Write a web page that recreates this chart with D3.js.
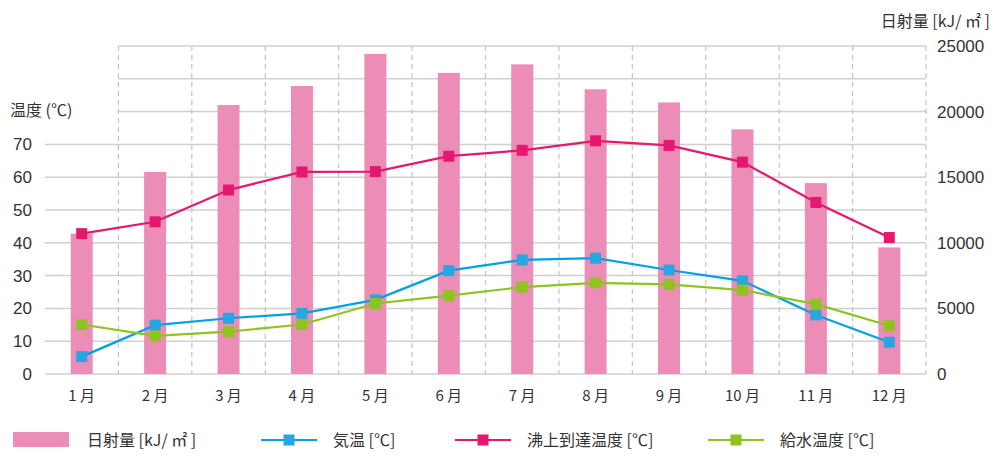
<!DOCTYPE html>
<meta charset="utf-8">
<style>
body { margin: 0; background: #fff; }
svg { font-family: "Noto Sans CJK JP", "Noto Sans", sans-serif; }
.grid line { stroke: #d0d0d0; stroke-width: 1.5px; }
.vgrid line { stroke: #c4c4c4; stroke-width: 1.2px; stroke-dasharray: 5,4; }
.tick-label { font-size: 17px; fill: #333; font-family: "Liberation Sans", sans-serif; }
.title { font-size: 16px; fill: #333; }
.month { font-size: 15px; fill: #333; }
.legend text { font-size: 16px; fill: #333; }
</style>
<svg width="1000" height="467"></svg>
<script src="https://d3js.org/d3.v7.min.js"></script>
<script>

var months = ["1 月","2 月","3 月","4 月","5 月","6 月","7 月","8 月","9 月","10 月","11 月","12 月"];
var solar = [10700, 15400, 20500, 21950, 24400, 22950, 23600, 21700, 20700, 18650, 14550, 9650];
var airTemp = [5.3, 14.9, 17.0, 18.5, 22.6, 31.5, 34.8, 35.3, 31.7, 28.4, 18.0, 9.7];
var boilTemp = [42.8, 46.4, 56.1, 61.6, 61.7, 66.4, 68.2, 71.1, 69.7, 64.6, 52.3, 41.6];
var waterTemp = [15.1, 11.6, 12.9, 15.1, 21.5, 23.9, 26.5, 27.8, 27.3, 25.6, 21.3, 14.7];
var leftTicks = [0, 10, 20, 30, 40, 50, 60, 70];
var rightTicks = [0, 5000, 10000, 15000, 20000, 25000];

var svg = d3.select("svg");

var x = d3.scaleBand()
    .domain(months)
    .range([45, 926]);

var yL = d3.scaleLinear().domain([0, 100]).range([374, 46]);
var yR = d3.scaleLinear().domain([0, 25000]).range([374, 46]);

// horizontal grid (upper lines start at the first month boundary)
svg.append("g").attr("class", "grid")
  .selectAll("line")
  .data(d3.range(0, 101, 10))
  .enter().append("line")
    .attr("x1", function(d) { return d > 70 ? x.range()[0] + x.step() : x.range()[0]; })
    .attr("x2", x.range()[1])
    .attr("y1", yL)
    .attr("y2", yL);

// vertical dashed lines at band boundaries
svg.append("g").attr("class", "vgrid")
  .selectAll("line")
  .data(months)
  .enter().append("line")
    .attr("x1", function(d) { return x(d) + x.step(); })
    .attr("x2", function(d) { return x(d) + x.step(); })
    .attr("y1", yL(100))
    .attr("y2", yL(0));

// bars
var barW = 22;
svg.append("g")
  .selectAll("rect")
  .data(solar)
  .enter().append("rect")
    .attr("x", function(d, i) { return x(months[i]) + x.bandwidth() / 2 - barW / 2; })
    .attr("y", function(d) { return yR(d); })
    .attr("width", barW)
    .attr("height", function(d) { return yR(0) - yR(d); })
    .attr("fill", "#ec8db8");

// lines
var series = [
  { values: airTemp, line: "#00a0e9", mark: "#29a6e1" },
  { values: boilTemp, line: "#e4186f", mark: "#e4186f" },
  { values: waterTemp, line: "#8fc31f", mark: "#8fc31f" }
];

var line = d3.line()
    .x(function(d, i) { return x(months[i]) + x.bandwidth() / 2; })
    .y(function(d) { return yL(d); });

var ms = 11;
series.forEach(function(s) {
  svg.append("path")
      .datum(s.values)
      .attr("fill", "none")
      .attr("stroke", s.line)
      .attr("stroke-width", 2.2)
      .attr("d", line);
  svg.append("g")
    .selectAll("rect")
    .data(s.values)
    .enter().append("rect")
      .attr("x", function(d, i) { return x(months[i]) + x.bandwidth() / 2 - ms / 2; })
      .attr("y", function(d) { return yL(d) - ms / 2; })
      .attr("width", ms)
      .attr("height", ms)
      .attr("fill", s.mark);
});

// left axis labels
svg.append("g")
  .selectAll("text")
  .data(leftTicks)
  .enter().append("text")
    .attr("class", "tick-label")
    .attr("x", 32)
    .attr("y", function(d) { return yL(d); })
    .attr("dy", "0.35em")
    .attr("text-anchor", "end")
    .text(function(d) { return d; });

// right axis labels
svg.append("g")
  .selectAll("text")
  .data(rightTicks)
  .enter().append("text")
    .attr("class", "tick-label")
    .attr("x", 937)
    .attr("y", function(d) { return yR(d); })
    .attr("dy", "0.35em")
    .text(function(d) { return d; });

// month labels
svg.append("g")
  .selectAll("text")
  .data(months)
  .enter().append("text")
    .attr("class", "month")
    .attr("x", function(d) { return x(d) + x.bandwidth() / 2; })
    .attr("y", 396)
    .attr("dy", "0.35em")
    .attr("text-anchor", "middle")
    .text(function(d) { return d; });

svg.append("text")
    .attr("class", "title")
    .attr("x", 10).attr("y", 110).attr("dy", "0.35em")
    .text("温度 (℃)");

svg.append("text")
    .attr("class", "title")
    .attr("x", 990).attr("y", 21).attr("dy", "0.35em")
    .attr("text-anchor", "end")
    .text("日射量 [kJ/ ㎡ ]");

// legend
var legend = svg.append("g").attr("class", "legend");
legend.append("rect")
    .attr("x", 13).attr("y", 432).attr("width", 56).attr("height", 15)
    .attr("fill", "#ec8db8");
legend.append("text").attr("x", 87).attr("y", 440).attr("dy", "0.35em").text("日射量 [kJ/ ㎡ ]");

var legItems = [
  { x: 261, s: series[0], label: "気温 [℃]" },
  { x: 455, s: series[1], label: "沸上到達温度 [℃]" },
  { x: 708, s: series[2], label: "給水温度 [℃]" }
];
legItems.forEach(function(d) {
  legend.append("line")
      .attr("x1", d.x).attr("x2", d.x + 56)
      .attr("y1", 440).attr("y2", 440)
      .attr("stroke", d.s.line).attr("stroke-width", 2.2);
  legend.append("rect")
      .attr("x", d.x + 28 - ms / 2).attr("y", 440 - ms / 2)
      .attr("width", ms).attr("height", ms)
      .attr("fill", d.s.mark);
  legend.append("text")
      .attr("x", d.x + 72).attr("y", 440).attr("dy", "0.35em")
      .text(d.label);
});

</script>
